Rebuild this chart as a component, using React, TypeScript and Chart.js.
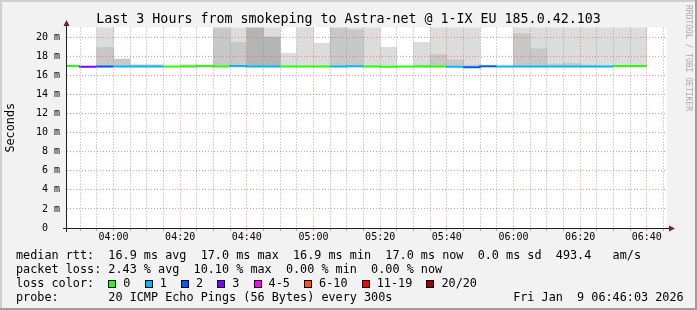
import React, { useEffect, useRef } from "react";
import { Chart, registerables } from "chart.js";

Chart.register(...registerables);

const MONO = '"DejaVu Sans Mono", "Liberation Mono", monospace';

const TITLE = "Last 3 Hours from smokeping to Astra-net @ 1-IX EU 185.0.42.103";
const Y_AXIS_TITLE = "Seconds";
const WATERMARK = "RRDTOOL / TOBI OETIKER";

// 5-minute bins (start time of each bin)
const binStarts = [
  "03:45", "03:50", "03:55", "04:00", "04:05", "04:10", "04:15", "04:20", "04:25", "04:30",
  "04:35", "04:40", "04:45", "04:50", "04:55", "05:00", "05:05", "05:10", "05:15", "05:20",
  "05:25", "05:30", "05:35", "05:40", "05:45", "05:50", "05:55", "06:00", "06:05", "06:10",
  "06:15", "06:20", "06:25", "06:30", "06:35",
];
const binMinutes = 5;

// median round trip time per bin (ms)
const medianRtt = [
  16.95, 17.02, 16.92, 16.95, 16.95, 16.95, 16.95, 16.95, 16.95, 17.02,
  16.95, 17.0, 16.95, 16.95, 16.95, 16.95, 16.95, 16.95, 16.97, 16.95,
  16.92, 16.95, 16.95, 16.95, 16.92, 16.88, 16.97, 16.95, 16.95, 16.95,
  16.95, 16.95, 16.95, 16.95, 17.02,
];

// lost pings (of 20) per bin
const lostPings = [
  0, 3, 2, 1, 1, 1, 0, 0, 0, 0,
  1, 1, 1, 0, 0, 0, 1, 1, 0, 0,
  0, 0, 0, 1, 2, 2, 1, 1, 1, 1,
  1, 1, 1, 0, 0,
];

// smoke: upper edge of each grey band (ms), null = no band
const smokeLightTop = [
  null, null, 21.1, null, null, null, null, null, null, null,
  21.1, null, 21.1, 18.34, 21.1, 19.4, null, 21.1, 21.1, 18.96,
  null, 19.5, 21.1, 21.1, 21.1, null, null, 21.1, 21.1, 21.1,
  21.1, 21.1, 21.1, 21.1, 21.1,
];
const smokeMediumTop = [
  null, null, 18.96, 17.74, 17.12, 17.12, null, 17.12, null, 21.1,
  19.5, null, null, null, null, null, 21.1, 20.8, null, null,
  null, 17.1, 18.2, 17.65, 17.1, null, null, 20.4, 18.8, 17.2,
  17.3, 17.1, null, null, null,
];
const smokeDarkTop = [
  null, null, null, null, null, null, null, null, null, null,
  null, 21.1, 20.05, null, null, null, null, null, null, null,
  null, null, null, null, null, null, null, null, null, null,
  null, null, null, null, null,
];

const rangeStart = "03:46:03";
const rangeEnd = "06:46:03";
const yMin = 0;
const yMax = 21.05;

const xTickLabels = ["04:00", "04:20", "04:40", "05:00", "05:20", "05:40", "06:00", "06:20", "06:40"];
const yTickLabels = ["0", "2 m", "4 m", "6 m", "8 m", "10 m", "12 m", "14 m", "16 m", "18 m", "20 m"];

const lossLabels = ["0", "1", "2", "3", "4-5", "6-10", "11-19", "20/20"];
const lossUpper = [0, 1, 2, 3, 5, 10, 19, 20];
const lossColors = ["#26ff00", "#00b8ff", "#0059ff", "#7e00ff", "#ff00ff", "#ff5500", "#ff0000", "#a10000"];

const legendRtt = "median rtt:  16.9 ms avg  17.0 ms max  16.9 ms min  17.0 ms now  0.0 ms sd  493.4   am/s";
const legendLoss = "packet loss: 2.43 % avg  10.10 % max  0.00 % min  0.00 % now";
const legendLossTitle = "loss color:  ";
const legendProbe = "probe:       20 ICMP Echo Pings (56 Bytes) every 300s                 Fri Jan  9 06:46:03 2026";

const toMin = (s: string) => {
  const p = s.split(":").map(Number);
  return p[0] * 60 + p[1] + (p[2] || 0) / 60;
};
const fmt = (v: number) => {
  const m = Math.round(v);
  const h = Math.floor(m / 60);
  const mm = m % 60;
  return String(h).padStart(2, "0") + ":" + String(mm).padStart(2, "0");
};

const GRID_MINOR = "rgba(143,143,143,0.75)";
const GRID_MAJOR = "rgba(222,79,79,0.6)";

export default function App() {
  const ref = useRef<HTMLCanvasElement>(null);

  useEffect(() => {
    const canvas = ref.current;
    if (!canvas) return;

    const xs = binStarts.map(toMin);
    const band = (tops: (number | null)[]) =>
      tops
        .map((t, i) => (t == null ? null : { x: xs[i] + binMinutes / 2, y: [medianRtt[i], t] }))
        .filter((d) => d !== null);
    const lineData = xs.map((x, i) => ({ x, y: medianRtt[i] }));
    lineData.push({ x: xs[xs.length - 1] + binMinutes, y: medianRtt[medianRtt.length - 1] });

    const lossColorAt = (i: number) => {
      const n = lostPings[Math.min(i, lostPings.length - 1)];
      const k = lossUpper.findIndex((u) => n <= u);
      return lossColors[k < 0 ? lossColors.length - 1 : k];
    };

    const xMin = toMin(rangeStart);
    const xMax = toMin(rangeEnd);
    const xGrid: number[] = [];
    for (let v = Math.ceil(xMin / binMinutes) * binMinutes; v < xMax; v += binMinutes) xGrid.push(v);
    const yGrid: number[] = [];
    for (let v = yMin; v <= 20; v += 1) yGrid.push(v);

    const isMajorX = (v: number) => xTickLabels.includes(fmt(v));

    const framePlugin = {
      id: "rrdFrame",
      beforeDraw(chart: any) {
        const { ctx, width, height, chartArea: a } = chart;
        ctx.save();
        ctx.fillStyle = "#f2f2f2";
        ctx.fillRect(0, 0, width, height);
        ctx.fillStyle = "#cfcfcf";
        ctx.fillRect(0, 0, width, 2);
        ctx.fillRect(0, 0, 2, height);
        ctx.fillStyle = "#9e9e9e";
        ctx.fillRect(0, height - 2, width, 2);
        ctx.fillRect(width - 2, 0, 2, height);
        ctx.fillStyle = "#ffffff";
        ctx.fillRect(a.left, a.top, a.right - a.left, a.bottom - a.top);
        ctx.restore();
      },
      afterDraw(chart: any) {
        const { ctx, chartArea: a } = chart;
        ctx.save();
        ctx.strokeStyle = "#1f1f1f";
        ctx.lineWidth = 1;
        ctx.beginPath();
        ctx.moveTo(a.left - 4, a.bottom + 0.5);
        ctx.lineTo(a.right + 3, a.bottom + 0.5);
        ctx.moveTo(a.left - 0.5, a.bottom + 4);
        ctx.lineTo(a.left - 0.5, a.top - 2);
        ctx.stroke();
        ctx.fillStyle = "#801f1f";
        ctx.beginPath();
        ctx.moveTo(a.left - 0.5, a.top - 7.5);
        ctx.lineTo(a.left - 3.5, a.top - 1.5);
        ctx.lineTo(a.left + 2.5, a.top - 1.5);
        ctx.closePath();
        ctx.fill();
        ctx.beginPath();
        ctx.moveTo(a.right + 8, a.bottom + 0.5);
        ctx.lineTo(a.right + 2, a.bottom - 2.5);
        ctx.lineTo(a.right + 2, a.bottom + 3.5);
        ctx.closePath();
        ctx.fill();
        ctx.restore();
      },
    };

    const barCommon = { grouped: false, barPercentage: 1, categoryPercentage: 1, borderWidth: 0 };

    const chart = new Chart(canvas, {
      type: "bar",
      data: {
        datasets: [
          {
            type: "line",
            data: lineData,
            stepped: "after",
            borderWidth: 2,
            pointRadius: 0,
            borderCapStyle: "butt",
            borderColor: lossColorAt(0),
            segment: { borderColor: (c: any) => lossColorAt(c.p0DataIndex) },
          } as any,
          { data: band(smokeDarkTop), backgroundColor: "#b4b4b4", ...barCommon } as any,
          { data: band(smokeMediumTop), backgroundColor: "#c8c8c8", ...barCommon } as any,
          { data: band(smokeLightTop), backgroundColor: "#dcdcdc", ...barCommon } as any,
        ],
      },
      plugins: [framePlugin],
      options: {
        animation: false,
        responsive: false,
        devicePixelRatio: 1,
        events: [],
        layout: { padding: { left: 0, top: 27.5, right: 30, bottom: 0 } },
        plugins: {
          legend: { display: false },
          tooltip: { enabled: false },
          title: { display: false },
        },
        scales: {
          x: {
            type: "linear",
            min: xMin,
            max: xMax,
            offset: false,
            grid: {
              offset: false,
              z: 1,
              lineWidth: 1,
              drawTicks: true,
              tickLength: 3,
              color: (c: any) => (isMajorX(c.tick.value) ? GRID_MAJOR : GRID_MINOR),
              tickColor: (c: any) => (isMajorX(c.tick.value) ? GRID_MAJOR : GRID_MINOR),
            },
            border: { display: false, dash: [1, 2] },
            ticks: {
              autoSkip: false,
              maxRotation: 0,
              minRotation: 0,
              padding: 0,
              color: "#000",
              font: { family: MONO, size: 10 },
              callback: (v: any) => (isMajorX(Number(v)) ? fmt(Number(v)) : ""),
            },
            afterBuildTicks: (s: any) => {
              s.ticks = xGrid.map((value) => ({ value }));
            },
            afterFit: (s: any) => {
              s.height = 82;
            },
          } as any,
          y: {
            type: "linear",
            min: yMin,
            max: yMax,
            grid: {
              z: 1,
              lineWidth: 1,
              drawTicks: false,
              color: (c: any) => (c.tick.value % 2 === 0 ? GRID_MAJOR : GRID_MINOR),
            },
            border: { display: false, dash: [1, 2] },
            ticks: {
              padding: 7,
              color: "#000",
              font: { family: MONO, size: 10 },
              callback: (v: any) => {
                const n = Number(v);
                if (n % 2 !== 0) return "";
                const l = yTickLabels[n / 2];
                return l.includes(" ") ? l : l + "  ";
              },
            },
            title: {
              display: true,
              text: Y_AXIS_TITLE,
              color: "#000",
              font: { family: MONO, size: 11.8 },
              padding: { top: 3.8, bottom: 0 },
            },
            afterBuildTicks: (s: any) => {
              s.ticks = yGrid.map((value) => ({ value }));
            },
            afterFit: (s: any) => {
              s.width = 67;
            },
          } as any,
        },
      },
    });
    return () => chart.destroy();
  }, []);

  const legendFont: React.CSSProperties = {
    position: "absolute",
    left: 16,
    top: 247.5,
    fontFamily: MONO,
    fontSize: "11.8px",
    lineHeight: "14px",
    whiteSpace: "pre",
    color: "#000",
  };

  return (
    <div style={{ position: "absolute", left: 0, top: 0, width: 697, height: 310, overflow: "hidden" }}>
      <canvas ref={ref} width={697} height={310} style={{ position: "absolute", left: 0, top: 0, width: 697, height: 310 }} />
      <div
        style={{
          position: "absolute",
          left: 0,
          top: 11,
          width: 697,
          textAlign: "center",
          fontFamily: MONO,
          fontSize: "13.3px",
          lineHeight: "16px",
          whiteSpace: "pre",
          color: "#000",
        }}
      >
        {TITLE}
      </div>
      <div style={legendFont}>
        <div>{legendRtt}</div>
        <div>{legendLoss}</div>
        <div>
          {legendLossTitle}
          {lossLabels.map((l, i) => (
            <React.Fragment key={l}>
              <span
                style={{
                  display: "inline-block",
                  width: 8,
                  height: 8,
                  boxSizing: "border-box",
                  border: "1px solid #000",
                  background: lossColors[i],
                  marginRight: 7,
                  verticalAlign: "-1px",
                }}
              />
              {l + "  "}
            </React.Fragment>
          ))}
        </div>
        <div>{legendProbe}</div>
      </div>
      <div
        style={{
          position: "absolute",
          left: 684,
          top: 5,
          writingMode: "vertical-rl",
          fontFamily: MONO,
          fontSize: "8px",
          lineHeight: "9px",
          whiteSpace: "pre",
          color: "#a9a9a9",
        }}
      >
        {WATERMARK}
      </div>
    </div>
  );
}
